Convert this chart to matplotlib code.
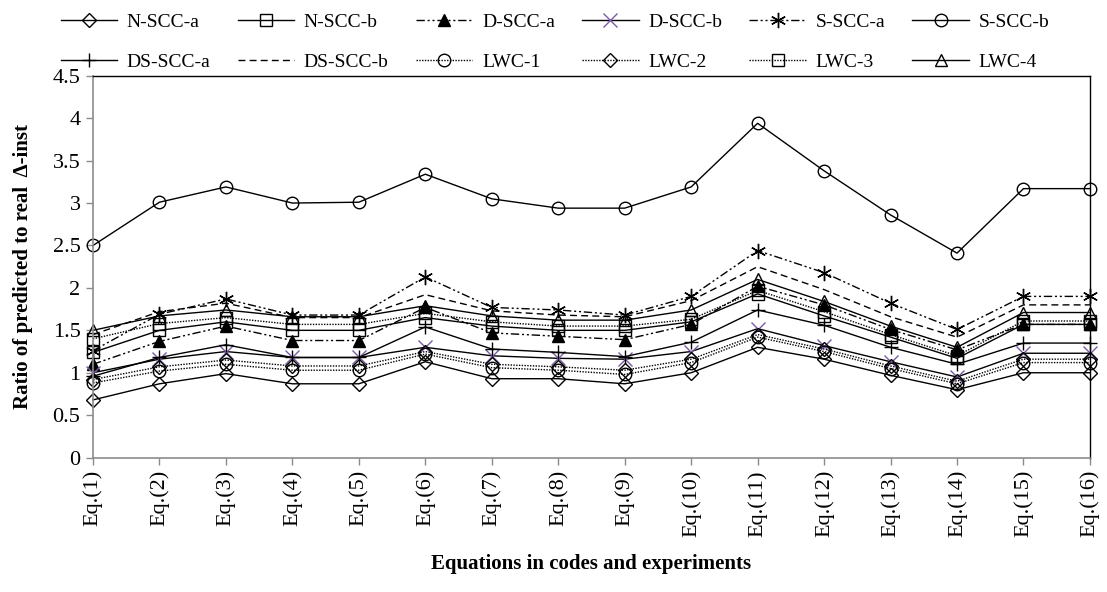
import matplotlib
matplotlib.use("Agg")
import matplotlib.pyplot as plt

plt.rcParams['font.family'] = ['Liberation Serif', 'DejaVu Serif']

equations = [f"Eq.({i})" for i in range(1, 17)]

n_scc_a = [0.68, 0.87, 0.99, 0.87, 0.87, 1.13, 0.93, 0.93, 0.87, 1.00, 1.30, 1.16, 0.97, 0.80, 1.00, 1.00]
n_scc_b = [1.24, 1.50, 1.60, 1.50, 1.50, 1.65, 1.55, 1.50, 1.50, 1.60, 1.93, 1.67, 1.42, 1.17, 1.57, 1.57]
d_scc_a = [1.10, 1.37, 1.55, 1.38, 1.38, 1.77, 1.47, 1.43, 1.39, 1.57, 2.02, 1.80, 1.51, 1.27, 1.57, 1.57]
d_scc_b = [1.00, 1.16, 1.25, 1.18, 1.18, 1.30, 1.20, 1.17, 1.16, 1.25, 1.52, 1.32, 1.13, 0.95, 1.23, 1.23]
s_scc_a = [1.26, 1.69, 1.87, 1.68, 1.68, 2.13, 1.77, 1.74, 1.68, 1.90, 2.44, 2.18, 1.82, 1.51, 1.90, 1.90]
s_scc_b = [2.50, 3.01, 3.19, 3.00, 3.01, 3.34, 3.05, 2.94, 2.94, 3.19, 3.94, 3.38, 2.86, 2.41, 3.17, 3.17]
ds_scc_a = [0.96, 1.18, 1.33, 1.18, 1.18, 1.54, 1.28, 1.24, 1.19, 1.36, 1.74, 1.56, 1.30, 1.10, 1.35, 1.35]
ds_scc_b = [1.45, 1.72, 1.82, 1.65, 1.65, 1.92, 1.73, 1.68, 1.66, 1.85, 2.25, 1.98, 1.66, 1.42, 1.80, 1.80]
lwc_1 = [0.88, 1.02, 1.10, 1.03, 1.03, 1.22, 1.06, 1.03, 0.98, 1.12, 1.42, 1.25, 1.05, 0.87, 1.12, 1.12]
lwc_2 = [0.92, 1.07, 1.15, 1.08, 1.08, 1.25, 1.10, 1.07, 1.03, 1.16, 1.45, 1.28, 1.08, 0.90, 1.16, 1.16]
lwc_3 = [1.40, 1.58, 1.65, 1.57, 1.57, 1.70, 1.60, 1.55, 1.55, 1.63, 1.97, 1.72, 1.45, 1.20, 1.61, 1.61]
lwc_4 = [1.50, 1.67, 1.74, 1.66, 1.66, 1.79, 1.67, 1.62, 1.62, 1.74, 2.10, 1.84, 1.55, 1.30, 1.71, 1.71]

dashdotdot = (0, (6, 2, 1.5, 2, 1.5, 2))
dashed = (0, (5, 3))
dotted = (0, (1, 1))
purple = '#7B5AA6'

# (label, values, linestyle, marker, marker face, marker edge)
series = [
    ("N-SCC-a", n_scc_a, '-', 'D', 'none', 'k'),
    ("N-SCC-b", n_scc_b, '-', 's', 'none', 'k'),
    ("D-SCC-a", d_scc_a, dashdotdot, '^', 'k', 'k'),
    ("D-SCC-b", d_scc_b, '-', 'x', 'none', purple),
    ("S-SCC-a", s_scc_a, dashdotdot, (6, 2, 0), 'none', 'k'),
    ("S-SCC-b", s_scc_b, '-', 'o', 'none', 'k'),
    ("DS-SCC-a", ds_scc_a, '-', '+', 'none', 'k'),
    ("DS-SCC-b", ds_scc_b, dashed, None, 'none', 'k'),
    ("LWC-1", lwc_1, dotted, 'o', 'none', 'k'),
    ("LWC-2", lwc_2, dotted, 'D', 'none', 'k'),
    ("LWC-3", lwc_3, dotted, 's', 'none', 'k'),
    ("LWC-4", lwc_4, '-', '^', 'none', 'k'),
]

fig = plt.figure(figsize=(11.07, 5.92), dpi=100)
ax = fig.add_axes([0.084, 0.227, 0.9006, 0.645])

x = list(range(len(equations)))
handles = []
for label, vals, ls, mk, mfc, mec in series:
    ms = 7 if mk == 'D' else 9
    if mk in ('x', '+'):
        ms = 10
    if mk == (6, 2, 0):
        ms = 11
    line, = ax.plot(x, vals, linestyle=ls, color='k', lw=1.0, marker=mk, markersize=ms,
                    markerfacecolor=mfc, markeredgecolor=mec, markeredgewidth=1.0,
                    label=label, clip_on=False)
    handles.append(line)

ax.set_xlim(0, len(equations) - 1)
ax.set_ylim(0, 4.5)
ax.set_yticks([0, 0.5, 1, 1.5, 2, 2.5, 3, 3.5, 4, 4.5])
ax.set_yticklabels(['0', '0.5', '1', '1.5', '2', '2.5', '3', '3.5', '4', '4.5'], fontsize=16)
ax.set_xticks(x)
ax.set_xticklabels(equations, rotation=90, fontsize=16)

for side in ('left', 'bottom'):
    ax.spines[side].set_color('#8c8c8c')
    ax.spines[side].set_linewidth(1.2)
for side in ('top', 'right'):
    ax.spines[side].set_color('k')
    ax.spines[side].set_linewidth(1.0)
ax.tick_params(axis='both', direction='out', length=5, width=1.0, color='#8c8c8c', pad=4)

ax.set_ylabel("Ratio of predicted to real  \u0394-inst", fontsize=15, fontweight='bold', labelpad=14)
ax.set_xlabel("Equations in codes and experiments", fontsize=15, fontweight='bold', labelpad=12)

# legend fills column by column, so interleave the two rows
order = [0, 6, 1, 7, 2, 8, 3, 9, 4, 10, 5, 11]
fig.legend([handles[i] for i in order], [series[i][0] for i in order],
           loc='upper left', bbox_to_anchor=(0.046, 0.994), ncol=6, frameon=False,
           fontsize=14, handlelength=2.9, handletextpad=0.5, columnspacing=1.4,
           labelspacing=1.15, borderpad=0)

fig.savefig("out.png", dpi=100)
